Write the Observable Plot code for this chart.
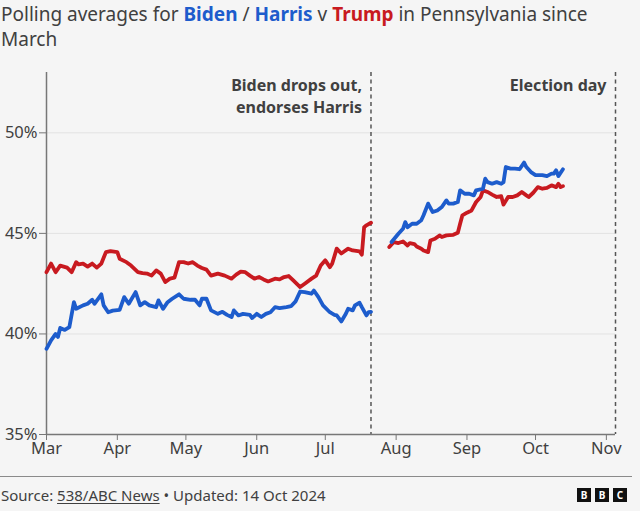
<!DOCTYPE html>
<html>
<head>
<meta charset="utf-8">
<script src="https://cdn.jsdelivr.net/npm/d3@7"></script>
<script src="https://cdn.jsdelivr.net/npm/@observablehq/plot@0.6"></script>
<style>
  html, body { margin: 0; padding: 0; background: #f5f5f5; }
  body { width: 640px; height: 511px; position: relative; overflow: hidden; font-family: "Noto Sans", sans-serif; color: #404040; }
  #title { position: absolute; left: 1px; top: 2px; width: 630px; font-size: 19px; line-height: 25px; color: #404040; margin: 0; font-weight: 400; }
  #title .b { font-weight: 700; }
  #chart { position: absolute; left: 0; top: 56px; }
  #rule { position: absolute; left: 0; top: 476px; width: 632px; height: 0; border-top: 1.5px solid #8a8a8a; }
  #source { position: absolute; left: 1px; top: 485px; font-size: 15px; color: #404040; }
  #source u { text-decoration: underline; text-underline-offset: 2px; }
  #logo { position: absolute; left: 577px; top: 488px; display: flex; gap: 4px; }
  #logo span { width: 14px; height: 14px; background: #111; color: #fff; font: 700 10px "Noto Sans", sans-serif; display: flex; align-items: center; justify-content: center; }
</style>
</head>
<body>
<h1 id="title"><span>Polling averages for </span><span class="b" style="color:#1d5ccc">Biden</span><span> / </span><span class="b" style="color:#1d5ccc">Harris</span><span> v </span><span class="b" style="color:#c81a20">Trump</span><span> in Pennsylvania since</span><br><span>March</span></h1>
<div id="chart"></div>
<div id="rule"></div>
<div id="source"><span>Source: </span><u>538/ABC News</u><span> • Updated: 14 Oct 2024</span></div>
<div id="logo"><span>B</span><span>B</span><span>C</span></div>
<script>
// ---- Data ----
const trumpDates1 = ["2024-03-01","2024-03-03","2024-03-05","2024-03-07","2024-03-10","2024-03-12","2024-03-14","2024-03-15","2024-03-17","2024-03-19","2024-03-21","2024-03-23","2024-03-25","2024-03-27","2024-03-29","2024-04-01","2024-04-02","2024-04-05","2024-04-07","2024-04-10","2024-04-12","2024-04-14","2024-04-16","2024-04-18","2024-04-20","2024-04-22","2024-04-24","2024-04-26","2024-04-28","2024-04-30","2024-05-02","2024-05-04","2024-05-06","2024-05-08","2024-05-10","2024-05-12","2024-05-15","2024-05-18","2024-05-21","2024-05-23","2024-05-25","2024-05-27","2024-05-29","2024-05-31","2024-06-02","2024-06-04","2024-06-06","2024-06-09","2024-06-11","2024-06-13","2024-06-15","2024-06-17","2024-06-20","2024-06-22","2024-06-25","2024-06-27","2024-06-29","2024-07-01","2024-07-03","2024-07-04","2024-07-06","2024-07-08","2024-07-11","2024-07-13","2024-07-16","2024-07-17","2024-07-18","2024-07-19","2024-07-21"];
const trumpValues1 = [43.07,43.5,43.07,43.4,43.3,43.07,43.57,43.46,43.5,43.35,43.5,43.3,43.5,44.07,44.12,44.07,43.74,43.57,43.4,43.07,43.02,43.0,42.9,43.16,43.0,42.58,42.75,42.8,43.57,43.57,43.5,43.57,43.4,43.28,43.2,42.9,43.0,42.9,42.75,42.95,43.1,43.07,42.9,42.75,42.83,42.71,42.61,42.75,42.71,42.83,42.88,42.66,42.33,42.5,42.75,42.9,43.4,43.66,43.32,43.49,44.24,44.0,44.24,44.15,44.1,43.94,45.31,45.4,45.53];

const bidenDates = ["2024-03-01","2024-03-03","2024-03-05","2024-03-06","2024-03-07","2024-03-09","2024-03-11","2024-03-13","2024-03-14","2024-03-17","2024-03-19","2024-03-21","2024-03-22","2024-03-25","2024-03-26","2024-03-28","2024-03-30","2024-04-02","2024-04-04","2024-04-06","2024-04-09","2024-04-11","2024-04-13","2024-04-15","2024-04-18","2024-04-19","2024-04-21","2024-04-23","2024-04-25","2024-04-28","2024-04-30","2024-05-03","2024-05-05","2024-05-07","2024-05-08","2024-05-10","2024-05-12","2024-05-15","2024-05-17","2024-05-19","2024-05-21","2024-05-22","2024-05-24","2024-05-26","2024-05-29","2024-05-30","2024-06-01","2024-06-03","2024-06-05","2024-06-07","2024-06-09","2024-06-11","2024-06-14","2024-06-16","2024-06-18","2024-06-20","2024-06-22","2024-06-25","2024-06-26","2024-06-28","2024-06-30","2024-07-03","2024-07-05","2024-07-06","2024-07-08","2024-07-10","2024-07-11","2024-07-13","2024-07-14","2024-07-16","2024-07-17","2024-07-19","2024-07-20","2024-07-21"];
const bidenValues = [39.26,39.68,40.0,39.85,40.3,40.2,40.34,41.58,41.25,41.42,41.5,41.7,41.5,41.97,41.42,41.08,41.16,41.2,41.83,41.5,42.08,41.42,41.58,41.42,41.33,41.67,41.25,41.58,41.75,41.97,41.75,41.7,41.7,41.42,41.75,41.75,41.17,41.0,41.1,40.95,40.84,41.17,40.92,41.0,40.95,40.79,41.0,40.84,41.0,41.08,41.33,41.28,41.33,41.38,41.62,42.11,42.08,42.0,42.16,41.83,41.42,41.08,40.95,40.92,40.62,41.0,41.25,41.17,41.42,41.55,41.33,40.92,41.08,41.1];

const harrisDates = ["2024-07-30","2024-08-02","2024-08-04","2024-08-05","2024-08-06","2024-08-08","2024-08-10","2024-08-12","2024-08-13","2024-08-15","2024-08-17","2024-08-19","2024-08-21","2024-08-23","2024-08-24","2024-08-26","2024-08-28","2024-08-29","2024-08-31","2024-09-02","2024-09-04","2024-09-05","2024-09-08","2024-09-09","2024-09-10","2024-09-12","2024-09-14","2024-09-16","2024-09-17","2024-09-18","2024-09-20","2024-09-22","2024-09-24","2024-09-26","2024-09-27","2024-09-29","2024-10-01","2024-10-04","2024-10-06","2024-10-08","2024-10-09","2024-10-10","2024-10-11","2024-10-13"];
const harrisValues = [44.57,44.98,45.23,45.56,45.31,45.48,45.48,45.65,45.9,46.48,46.06,46.14,46.31,46.64,46.48,46.48,46.56,47.14,46.97,46.97,46.89,47.14,47.22,47.72,47.55,47.47,47.55,47.47,47.55,48.3,48.22,48.22,48.19,48.52,48.3,48.05,47.9,47.9,47.85,47.97,47.97,48.14,47.85,48.19];

const trumpDates2 = ["2024-07-29","2024-07-31","2024-08-02","2024-08-04","2024-08-06","2024-08-07","2024-08-09","2024-08-10","2024-08-12","2024-08-13","2024-08-15","2024-08-16","2024-08-18","2024-08-20","2024-08-21","2024-08-23","2024-08-26","2024-08-28","2024-08-29","2024-08-30","2024-09-01","2024-09-03","2024-09-05","2024-09-07","2024-09-08","2024-09-10","2024-09-12","2024-09-14","2024-09-16","2024-09-17","2024-09-19","2024-09-21","2024-09-23","2024-09-25","2024-09-27","2024-09-28","2024-09-30","2024-10-02","2024-10-04","2024-10-06","2024-10-08","2024-10-10","2024-10-11","2024-10-12","2024-10-13"];
const trumpValues2 = [44.32,44.57,44.52,44.6,44.4,44.52,44.47,44.35,44.24,44.15,44.07,44.65,44.73,44.9,44.82,44.9,44.93,45.03,45.48,45.9,46.03,46.14,46.56,46.81,47.14,47.06,46.93,46.81,46.85,46.43,46.81,46.81,46.89,47.06,46.89,46.81,47.02,47.3,47.22,47.26,47.39,47.3,47.47,47.3,47.35];

const monthTicks = ["2024-03-01","2024-04-01","2024-05-01","2024-06-01","2024-07-01","2024-08-01","2024-09-01","2024-10-01","2024-11-01"];
const yTicks = [35, 40, 45, 50];
const eventDates = ["2024-07-21", "2024-11-05"];
const eventLabels = ["Biden drops out,\nendorses Harris", "Election day"];
const xDomain = ["2024-03-01", "2024-11-05"];
const yDomain = [35, 53];

const BLUE = "#1d5ccc";
const RED = "#c81a20";

// ---- Build tables ----
const parse = d3.utcParse("%Y-%m-%d");
const series = [
  {name: "Trump (v Biden)", color: RED, dates: trumpDates1, values: trumpValues1},
  {name: "Biden", color: BLUE, dates: bidenDates, values: bidenValues},
  {name: "Trump (v Harris)", color: RED, dates: trumpDates2, values: trumpValues2},
  {name: "Harris", color: BLUE, dates: harrisDates, values: harrisValues}
];
const rows = series.flatMap(s => s.dates.map((d, i) => ({series: s.name, color: s.color, date: parse(d), value: s.values[i]})));
const events = eventDates.map((d, i) => ({date: parse(d), label: eventLabels[i]}));

const chart = Plot.plot({
  width: 640,
  height: 420,
  marginTop: 16,
  marginBottom: 42,
  marginLeft: 46,
  marginRight: 25,
  style: {background: "transparent", fontFamily: "'Noto Sans', sans-serif", fontSize: "16px", color: "#404040"},
  x: {type: "utc", domain: xDomain.map(parse)},
  y: {domain: yDomain},
  marks: [
    Plot.gridY(yTicks.slice(1), {stroke: "#e2e2e2", strokeOpacity: 1, strokeWidth: 1}),
    Plot.axisY(yTicks, {tickFormat: d => d + "%", tickSize: 7, tickPadding: 2, stroke: "#777", label: null, fontSize: 16.5}),
    Plot.axisX(monthTicks.map(parse), {tickFormat: d3.utcFormat("%b"), tickSize: 6, tickPadding: 2, stroke: "#777", label: null, fontSize: 16.5}),
    Plot.ruleX(events, {x: "date", stroke: "#555", strokeWidth: 1.5, strokeDasharray: "4,3.5"}),
    Plot.ruleY([yDomain[0]], {stroke: "#777", strokeWidth: 1.5}),
    Plot.ruleX([parse(xDomain[0])], {stroke: "#777", strokeWidth: 1.5}),
    Plot.lineY(rows, {x: "date", y: "value", z: "series", stroke: "color", strokeWidth: 3.8, strokeLinejoin: "round", strokeLinecap: "round"}),
    Plot.text(events, {x: "date", text: "label", frameAnchor: "top", lineAnchor: "top", textAnchor: "end", dx: -9, dy: 3, fontWeight: 700, fontSize: 16, fill: "#404040", lineHeight: 1.38})
  ]
});
document.getElementById("chart").appendChild(chart);
</script>
</body>
</html>
